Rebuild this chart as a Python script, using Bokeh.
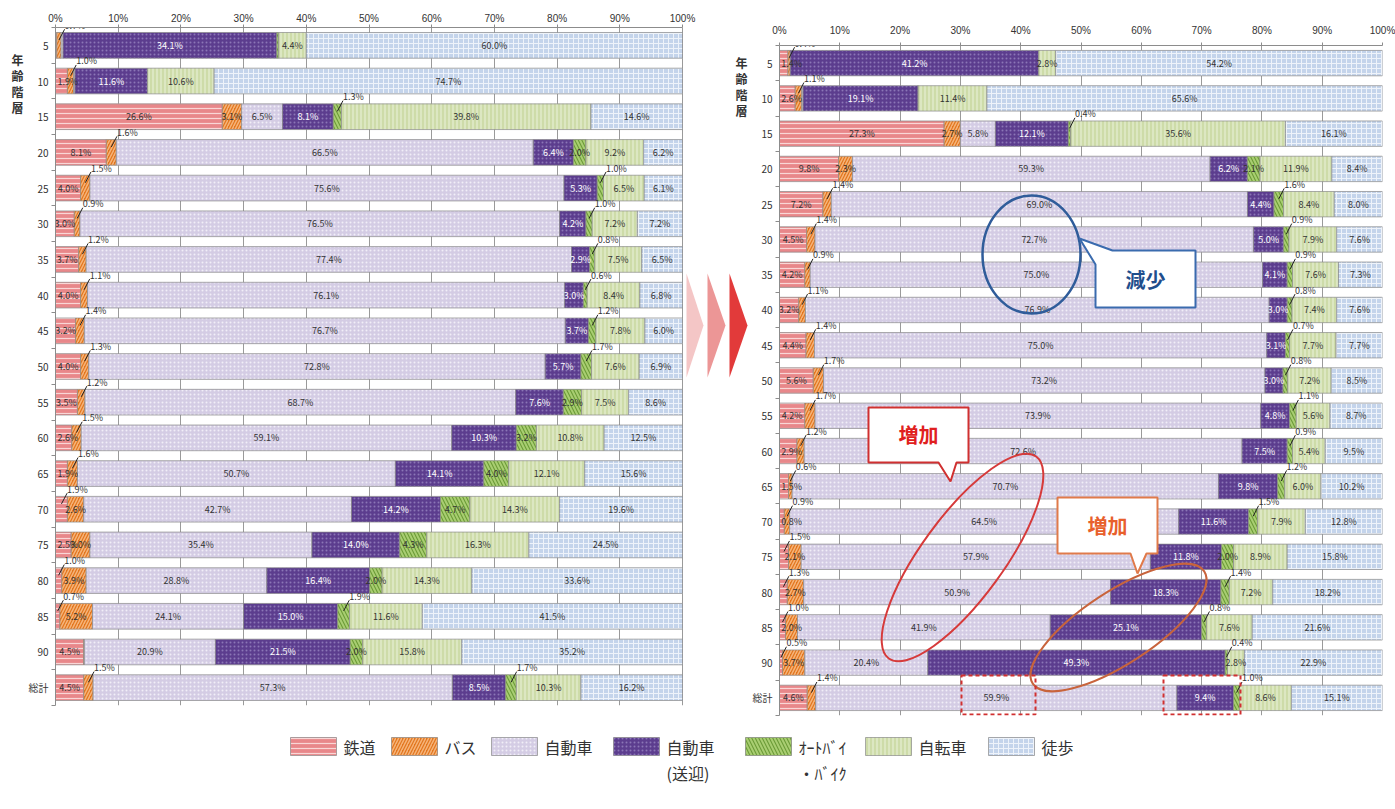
import math
from bokeh.plotting import figure
from bokeh.models import ColumnDataSource, Range1d, FixedTicker, Label, LinearAxis
from bokeh.layouts import row, column
from bokeh.embed import file_html
from bokeh.resources import INLINE
from bokeh.core.properties import value

# ---------------- data ----------------
ages = ["5", "10", "15", "20", "25", "30", "35", "40", "45", "50", "55", "60",
        "65", "70", "75", "80", "85", "90", "総計"]
modes = ["鉄道", "バス", "自動車", "自動車(送迎)", "ｵｰﾄﾊﾞｲ・ﾊﾞｲｸ", "自転車", "徒歩"]
axis_title = "年齢階層"

# earlier survey (left panel)
left_rail   = [0.2, 1.9, 26.6, 8.1, 4.0, 3.0, 3.7, 4.0, 3.2, 4.0, 3.5, 2.6, 1.9, 1.9, 2.5, 1.0, 0.7, 4.5, 4.5]
left_bus    = [0.7, 1.0, 3.1, 1.6, 1.5, 0.9, 1.2, 1.1, 1.4, 1.3, 1.2, 1.5, 1.6, 2.6, 3.0, 3.9, 5.2, 0.1, 1.5]
left_car    = [0.3, 0.2, 6.5, 66.5, 75.6, 76.5, 77.4, 76.1, 76.7, 72.8, 68.7, 59.1, 50.7, 42.7, 35.4, 28.8, 24.1, 20.9, 57.3]
left_pickup = [34.1, 11.6, 8.1, 6.4, 5.3, 4.2, 2.9, 3.0, 3.7, 5.7, 7.6, 10.3, 14.1, 14.2, 14.0, 16.4, 15.0, 21.5, 8.5]
left_moto   = [0.3, 0.0, 1.3, 2.0, 1.0, 1.0, 0.8, 0.6, 1.2, 1.7, 2.9, 3.2, 4.0, 4.7, 4.3, 2.0, 1.9, 2.0, 1.7]
left_bike   = [4.4, 10.6, 39.8, 9.2, 6.5, 7.2, 7.5, 8.4, 7.8, 7.6, 7.5, 10.8, 12.1, 14.3, 16.3, 14.3, 11.6, 15.8, 10.3]
left_walk   = [60.0, 74.7, 14.6, 6.2, 6.1, 7.2, 6.5, 6.8, 6.0, 6.9, 8.6, 12.5, 15.6, 19.6, 24.5, 33.6, 41.5, 35.2, 16.2]

# later survey (right panel)
right_rail   = [1.4, 2.6, 27.3, 9.8, 7.2, 4.5, 4.2, 3.2, 4.4, 5.6, 4.2, 2.9, 1.5, 0.8, 1.5, 1.3, 1.0, 0.5, 4.6]
right_bus    = [0.4, 1.1, 2.7, 2.3, 1.4, 1.4, 0.9, 1.1, 1.4, 1.7, 1.7, 1.2, 0.6, 0.9, 2.1, 2.7, 2.0, 3.7, 1.4]
right_car    = [0.0, 0.2, 5.8, 59.3, 69.0, 72.7, 75.0, 76.9, 75.0, 73.2, 73.9, 72.6, 70.7, 64.5, 57.9, 50.9, 41.9, 20.4, 59.9]
right_pickup = [41.2, 19.1, 12.1, 6.2, 4.4, 5.0, 4.1, 3.0, 3.1, 3.0, 4.8, 7.5, 9.8, 11.6, 11.8, 18.3, 25.1, 49.3, 9.4]
right_moto   = [0.0, 0.0, 0.4, 2.1, 1.6, 0.9, 0.9, 0.8, 0.7, 0.8, 1.1, 0.9, 1.2, 1.5, 2.0, 1.4, 0.8, 0.4, 1.0]
right_bike   = [2.8, 11.4, 35.6, 11.9, 8.4, 7.9, 7.6, 7.4, 7.7, 7.2, 5.6, 5.4, 6.0, 7.9, 8.9, 7.2, 7.6, 2.8, 8.6]
right_walk   = [54.2, 65.6, 16.1, 8.4, 8.0, 7.6, 7.3, 7.6, 7.7, 8.5, 8.7, 9.5, 10.2, 12.8, 15.8, 18.2, 21.6, 22.9, 15.1]

left_vals = [left_rail, left_bus, left_car, left_pickup, left_moto, left_bike, left_walk]
right_vals = [right_rail, right_bus, right_car, right_pickup, right_moto, right_bike, right_walk]

x_ticks = [0, 10, 20, 30, 40, 50, 60, 70, 80, 90, 100]

# ---------------- styles ----------------
FILL = ["#E8878A", "#E2761E", "#D4CCE4", "#5C3D8E", "#6C9B37", "#DCE7C2", "#C4D4EB"]
HATCH = ["horizontal_line", "right_diagonal_line", "dot", "dot", "left_diagonal_line", "vertical_line", "cross"]
HCOL = ["#F9D6D6", "#F6B47A", "#F1EEF7", "#8B76B6", "#A9CE72", "#BFD08F", "#EEF3FA"]
HSCALE = [5, 6, 4, 4, 7, 4, 5]
HWEIGHT = [1.2, 1.5, 1, 1, 2, 1, 1]
FONT = "Noto Sans CJK JP"
NUMFONT = "Liberation Sans"
N = len(ages)


def build_source(vals):
    data = {"y": list(range(N))}
    cum = [0.0] * N
    for k, v in enumerate(vals):
        data["l%d" % k] = cum[:]
        cum = [c + a for c, a in zip(cum, v)]
        data["r%d" % k] = cum[:]
    return ColumnDataSource(data)


def make_panel(vals, width, height, mb_left, mb_right, mb_top, mb_bottom, x_end, label_standoff):
    p = figure(width=width, height=height, x_range=Range1d(0, x_end),
               y_range=Range1d(N - 0.5, -0.5), output_backend="svg",
               toolbar_location=None, x_axis_location="above",
               min_border_left=mb_left, min_border_right=mb_right,
               min_border_top=mb_top, min_border_bottom=mb_bottom,
               background_fill_color="white", border_fill_color="white",
               outline_line_color=None)
    xa = p.above[0]
    xa.ticker = FixedTicker(ticks=x_ticks)
    xa.major_label_overrides = {t: "%d%%" % t for t in x_ticks}
    xa.bounds = (0, 100)
    xa.minor_tick_line_color = None
    xa.major_tick_out = 3
    xa.major_tick_in = 0
    xa.major_label_standoff = label_standoff
    xa.axis_line_color = "#8c8c8c"
    xa.major_tick_line_color = "#8c8c8c"
    xa.major_label_text_font = NUMFONT
    xa.major_label_text_font_size = "10px"
    xa.major_label_text_color = "#333333"

    ya = p.left[0]
    ya.ticker = FixedTicker(ticks=list(range(N)), minor_ticks=[i - 0.5 for i in range(N + 1)])
    ya.major_label_overrides = {i: a for i, a in enumerate(ages)}
    ya.major_tick_out = 0
    ya.major_tick_in = 0
    ya.minor_tick_out = 4
    ya.minor_tick_in = 0
    ya.minor_tick_line_color = "#8c8c8c"
    ya.axis_line_color = "#8c8c8c"
    ya.major_label_standoff = 3
    ya.major_label_text_font = FONT
    ya.major_label_text_font_size = "10px"
    ya.major_label_text_color = "#333333"

    p.xgrid.grid_line_color = "#9a9a9a"
    p.xgrid.grid_line_width = 1
    p.ygrid.visible = False

    src = build_source(vals)
    for k in range(7):
        p.hbar(y="y", left="l%d" % k, right="r%d" % k, height=0.72, source=src,
               fill_color=FILL[k], line_color="#8a8a8a", line_width=0.7,
               hatch_pattern=HATCH[k], hatch_color=HCOL[k],
               hatch_scale=HSCALE[k], hatch_weight=HWEIGHT[k])

    # value labels
    g = {"c_dark": ([], [], []), "c_light": ([], [], []), "left": ([], [], []), "above": ([], [], [])}
    seg = ([], [], [], [])
    for i in range(N):
        cum = 0.0
        for k in range(7):
            v = vals[k][i]
            c = cum + v / 2.0
            cum += v
            if v < 0.4:
                continue
            txt = "%.1f%%" % v
            small = v < 2.0
            if k == 0 and small and vals[1][i] < 2.0:
                small = False
            if small:
                g["above"][0].append(c + 0.9)
                g["above"][1].append(i - 0.38)
                g["above"][2].append(txt)
                seg[0].append(c)
                seg[1].append(i - 0.15)
                seg[2].append(c + 0.9)
                seg[3].append(i - 0.45)
            elif k == 0 and v < 3.0:
                g["left"][0].append(0.3)
                g["left"][1].append(i)
                g["left"][2].append(txt)
            else:
                key = "c_light" if k == 3 else "c_dark"
                g[key][0].append(c)
                g[key][1].append(i)
                g[key][2].append(txt)
    for key, align, base, col in [("c_dark", "center", "middle", "#333333"),
                                  ("c_light", "center", "middle", "#ffffff"),
                                  ("left", "left", "middle", "#333333"),
                                  ("above", "left", "bottom", "#333333")]:
        xs, ys, ts = g[key]
        s = ColumnDataSource(dict(x=xs, y=ys, t=ts))
        p.text(x="x", y="y", text="t", source=s, text_font=value(FONT),
               text_font_size="9px", text_color=col, text_align=align, text_baseline=base)
    p.segment(x0=seg[0], y0=seg[1], x1=seg[2], y1=seg[3], line_color="#222222", line_width=1)
    return p


# ---------------- panels ----------------
L_PX = 6.27            # px per % in left panel
L_ROW = 678.0 / N
left = make_panel(left_vals, 748, 720, 55, 0, 27, 15, 693.0 / L_PX, 1)
R_PX = 603.0 / 100.0
R_ROW = 670.0 / N
right = make_panel(right_vals, 647, 720, 31, 13, 45, 5, 100, 7)


def LX(px):
    return (px - 55.0) / L_PX


def LY(py):
    return (py - 27.0) / L_ROW - 0.5


def RX(px):
    return (px - 779.0) / R_PX


def RY(py):
    return (py - 45.0) / R_ROW - 0.5


# "年齢階層" for the left panel: an extra, line-less axis left of the age axis
title_ticks = [0.4, 0.85, 1.3, 1.75]
ta = LinearAxis(ticker=FixedTicker(ticks=title_ticks),
                major_label_overrides={t: ch for t, ch in zip(title_ticks, axis_title)},
                axis_line_color=None, major_tick_line_color=None, minor_tick_line_color=None,
                major_tick_out=0, major_tick_in=0, minor_tick_out=0, major_label_standoff=2,
                major_label_text_font=FONT, major_label_text_font_size="12px",
                major_label_text_font_style="bold", major_label_text_color="#333333")
left.add_layout(ta, "left")

# "年齢階層" for the right panel (sits in the gap between panels)
for j, ch in enumerate(axis_title):
    left.add_layout(Label(x=LX(741), y=LY(62 + 16 * j), text=ch, text_align="center",
                          text_baseline="middle", text_font=FONT, text_font_size="12px",
                          text_font_style="bold", text_color="#333333"))

# chevrons between panels
chev = [(686, 703, "#F4C6C6"), (707, 725, "#EC9696"), (729, 747, "#E23A3A")]
left.patches(xs=[[LX(a), LX(b), LX(a)] for a, b, c in chev],
             ys=[[LY(273), LY(325), LY(377)] for a, b, c in chev],
             fill_color=[c for a, b, c in chev], line_color=None)

# blue ellipse and 減少 callout
right.ellipse(x=RX(1031), y=RY(254), width=98, height=118, width_units="screen",
              height_units="screen", fill_color=None, line_color="#2F5C9A", line_width=2.5)
pts = [(1112, 250), (1195, 250), (1195, 307), (1095, 307), (1095, 264), (1079, 238)]
right.patch(x=[RX(a) for a, b in pts], y=[RY(b) for a, b in pts], fill_color="white",
            line_color="#3A6BAE", line_width=2)
right.add_layout(Label(x=RX(1145), y=RY(279), text="減少", text_align="center",
                       text_baseline="middle", text_font=FONT, text_font_size="20px",
                       text_font_style="bold", text_color="#1F4E8C"))

# red ellipses and 増加 callouts
right.ellipse(x=RX(962), y=RY(557), width=250, height=82, angle=0.94,
              width_units="screen", height_units="screen", fill_color=None,
              line_color="#D63A3A", line_width=2)
right.ellipse(x=RX(1118), y=RY(627), width=205, height=72, angle=0.58,
              width_units="screen", height_units="screen", fill_color=None,
              line_color="#C8643C", line_width=2)
pts1 = [(868, 407), (968, 407), (968, 462), (956, 462), (950, 481), (938, 462), (868, 462)]
right.patch(x=[RX(a) for a, b in pts1], y=[RY(b) for a, b in pts1], fill_color="white",
            line_color="#D03030", line_width=2)
right.add_layout(Label(x=RX(918), y=RY(434), text="増加", text_align="center",
                       text_baseline="middle", text_font=FONT, text_font_size="20px",
                       text_font_style="bold", text_color="#E02020"))
pts2 = [(1057, 497), (1157, 497), (1157, 553), (1146, 553), (1137, 573), (1130, 553), (1057, 553)]
right.patch(x=[RX(a) for a, b in pts2], y=[RY(b) for a, b in pts2], fill_color="white",
            line_color="#E07A4A", line_width=2)
right.add_layout(Label(x=RX(1107), y=RY(525), text="増加", text_align="center",
                       text_baseline="middle", text_font=FONT, text_font_size="20px",
                       text_font_style="bold", text_color="#E8602C"))

# dashed highlight boxes in 総計 row
right.quad(left=[RX(961), RX(1163)], right=[RX(1035), RX(1240)],
           top=[RY(675), RY(675)], bottom=[RY(714), RY(714)],
           fill_color=None, line_color="#D03030", line_width=2, line_dash="4 3")

# ---------------- legend ----------------
leg = figure(width=1395, height=85, x_range=Range1d(0, 1395), y_range=Range1d(805, 720),
             output_backend="svg", toolbar_location=None, min_border=0,
             outline_line_color=None, background_fill_color="white", border_fill_color="white")
leg.axis.visible = False
leg.grid.visible = False
sw_x = [290, 391, 491, 613, 745, 865, 988]
for k in range(7):
    leg.quad(left=[sw_x[k]], right=[sw_x[k] + 46], top=[737], bottom=[755],
             fill_color=FILL[k], line_color="#8a8a8a", line_width=0.7,
             hatch_pattern=HATCH[k], hatch_color=HCOL[k], hatch_scale=HSCALE[k],
             hatch_weight=HWEIGHT[k])
    name = modes[k]
    if "(" in name:
        lines = [name[:name.index("(")], name[name.index("("):]]
    elif "・" in name:
        lines = [name[:name.index("・")], name[name.index("・"):]]
    else:
        lines = [name]
    for j, ln in enumerate(lines):
        leg.add_layout(Label(x=sw_x[k] + 53, y=746 + 26 * j, text=ln, text_align="left",
                             text_baseline="middle", text_font=FONT, text_font_size="16px",
                             text_color="#333333"))

layout = column(row(left, column(right, spacing=0), spacing=0), leg, spacing=0)
open("out.html", "w").write(file_html(layout, INLINE))
